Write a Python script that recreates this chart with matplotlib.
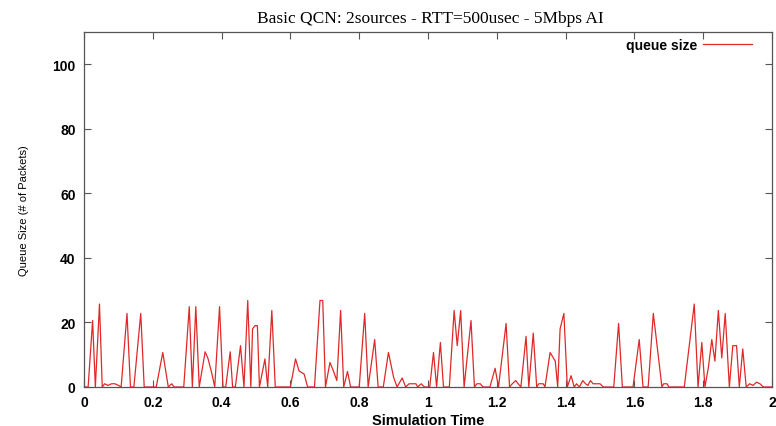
import matplotlib
matplotlib.use("Agg")
import matplotlib.pyplot as plt

title = "Basic QCN: 2sources - RTT=500usec - 5Mbps AI"
xlabel = "Simulation Time"
ylabel = "Queue Size (# of Packets)"
series_name = "queue size"

time = [0.000, 0.012, 0.025, 0.033, 0.045, 0.053, 0.060, 0.070, 0.080, 0.090, 0.100, 0.108,
        0.125, 0.135, 0.145, 0.165, 0.175, 0.210, 0.229, 0.245, 0.255, 0.262, 0.290,
        0.306, 0.315, 0.325, 0.335, 0.352, 0.360, 0.372, 0.380, 0.394, 0.404, 0.412,
        0.425, 0.432, 0.440, 0.455, 0.465, 0.476, 0.485, 0.490, 0.497, 0.504, 0.510,
        0.526, 0.534, 0.546, 0.556, 0.600, 0.615, 0.625, 0.640, 0.650, 0.670, 0.686,
        0.694, 0.702, 0.715, 0.725, 0.735, 0.746, 0.755, 0.766, 0.775, 0.800, 0.816,
        0.826, 0.845, 0.855, 0.870, 0.885, 0.900, 0.910, 0.925, 0.935, 0.945, 0.955,
        0.965, 0.970, 0.980, 0.990, 1.005, 1.016, 1.025, 1.036, 1.045, 1.062, 1.076,
        1.085, 1.095, 1.105, 1.125, 1.135, 1.142, 1.152, 1.160, 1.180, 1.195, 1.205,
        1.227, 1.237, 1.245, 1.255, 1.262, 1.270, 1.285, 1.293, 1.306, 1.316, 1.322,
        1.335, 1.340, 1.355, 1.370, 1.377, 1.384, 1.395, 1.405, 1.416, 1.425, 1.432,
        1.440, 1.450, 1.458, 1.465, 1.472, 1.480, 1.490, 1.500, 1.510, 1.540, 1.554,
        1.565, 1.596, 1.614, 1.625, 1.640, 1.655, 1.680, 1.685, 1.695, 1.700, 1.745,
        1.774, 1.785, 1.796, 1.805, 1.815, 1.825, 1.834, 1.844, 1.854, 1.864, 1.876,
        1.886, 1.897, 1.905, 1.915, 1.925, 1.935, 1.945, 1.955, 1.965, 1.975, 2.000]
queue = [0, 0, 20.6, 0, 25.7, 0, 1, 0.5, 1, 1, 0.5, 0,
         22.8, 0, 0, 22.8, 0, 0, 10.7, 0, 1, 0, 0,
         24.9, 0, 24.9, 0, 10.9, 9, 4, 0, 24.9, 0, 0,
         10.9, 0, 0, 12.8, 0, 26.8, 0, 18.0, 19.0, 19.0, 0,
         8.7, 0, 23.7, 0, 0, 8.7, 5, 4, 0, 0, 26.8,
         26.8, 0, 7.6, 5, 2, 23.7, 0, 4.8, 0, 0, 22.8,
         0, 14.7, 0, 0, 10.7, 3, 0, 2.8, 0, 1, 1,
         1, 0, 1, 0, 0, 10.7, 0, 13.8, 0, 0, 23.7,
         12.8, 23.7, 0, 20.6, 0, 1, 1, 0, 0, 5.8, 0,
         19.7, 0, 1, 2, 1, 0, 15.7, 0, 16.7, 0, 1,
         1, 0, 10.7, 8, 0, 18, 22.8, 0, 3.5, 0, 1,
         0, 2, 1, 0.5, 2, 1, 1, 1, 0, 0, 19.7,
         0, 0, 14.7, 0, 0, 22.8, 0, 1, 1, 0, 0,
         25.7, 0, 13.8, 0, 6, 14.7, 8, 23.7, 9, 22.8, 0,
         12.8, 12.8, 0, 11.8, 0, 1, 0.5, 1.5, 1, 0, 0]

xticks = [0, 0.2, 0.4, 0.6, 0.8, 1, 1.2, 1.4, 1.6, 1.8, 2]
xticklabels = ["0", "0.2", "0.4", "0.6", "0.8", "1", "1.2", "1.4", "1.6", "1.8", "2"]
yticks = [0, 20, 40, 60, 80, 100]

fig = plt.figure(figsize=(7.76, 4.27), dpi=100)
ax = fig.add_axes([84/776, 39/427, 688/776, 355/427])
ax.plot(time, queue, color="#e02828", linewidth=0.9, label=series_name)
ax.set_xlim(0, 2)
ax.set_ylim(0, 110)
ax.set_xticks(xticks)
ax.set_xticklabels(xticklabels)
ax.set_yticks(yticks)
for s in ax.spines.values():
    s.set_color("#555555")
    s.set_linewidth(0.9)
ax.tick_params(direction="in", length=5, top=True, right=True, colors="#555555",
               labelcolor="black", labelsize=10, pad=6)
for lab in ax.get_xticklabels() + ax.get_yticklabels():
    lab.set_family("Liberation Sans")
    lab.set_fontweight("bold")
ax.set_xlabel(xlabel, fontsize=10.5, family="Liberation Sans", fontweight="bold", labelpad=3)
ax.set_ylabel(ylabel, fontsize=8, family="Liberation Sans", labelpad=17)
fig.text(0.5 + 0.055, 0.955, title, ha="center", va="center", fontsize=12.5,
         family="Liberation Serif")
leg = ax.legend(loc="upper right", frameon=False, markerfirst=False,
                handlelength=3.5, handletextpad=0.45, borderaxespad=0,
                bbox_to_anchor=(0.979, 1.0),
                prop={"family": "Liberation Sans", "size": 10, "weight": "bold"})
fig.savefig("out.png", dpi=100)
